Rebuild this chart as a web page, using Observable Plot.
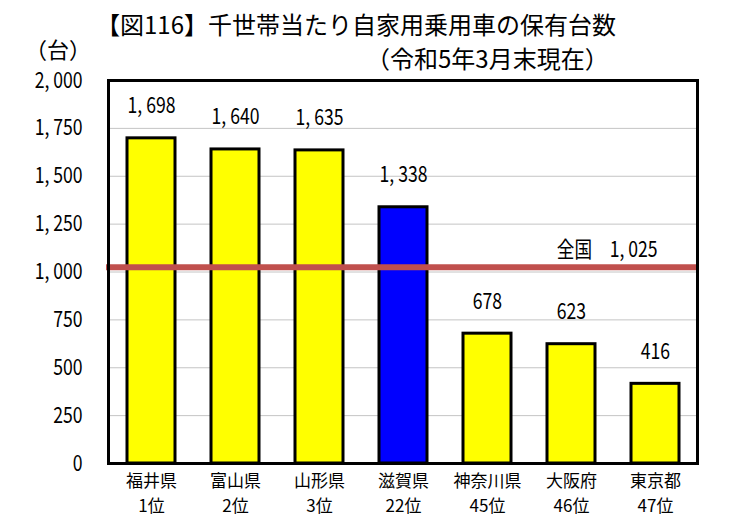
<!DOCTYPE html>
<html><head><meta charset="utf-8">
<script src="https://cdn.jsdelivr.net/npm/d3@7"></script>
<script src="https://cdn.jsdelivr.net/npm/@observablehq/plot@0.6"></script>
<style>
  body { margin:0; background:#fff; }
  #wrap { position:relative; width:740px; height:529px; overflow:hidden; font-family:"Noto Sans CJK JP",sans-serif; color:#000; }
  .t { position:absolute; white-space:nowrap; line-height:1; font-family:"Noto Sans CJK JP",sans-serif; }
  #chart { position:absolute; left:0; top:0; }
  #chart svg { font-family:"Noto Sans CJK JP",sans-serif; }
</style>
</head><body>
<div id="wrap">
  <div id="chart"></div>
  <div class="t" id="title1" style="left:96px;top:12px;font-size:24px;">【図116】千世帯当たり自家用乗用車の保有台数</div>
  <div class="t" id="title2" style="left:366px;top:46px;font-size:24px;">（令和5年3月末現在）</div>
  <div class="t" id="unit" style="left:25px;top:37px;font-size:22px;">（台）</div>
</div>
<script>
const prefectures = ["福井県","富山県","山形県","滋賀県","神奈川県","大阪府","東京都"];
const ranks = ["1位","2位","3位","22位","45位","46位","47位"];
const values = [1698,1640,1635,1338,678,623,416];
const highlight = "滋賀県";
const nationalLabel = "全国";
const nationalValue = 1025;
const yTicks = [0,250,500,750,1000,1250,1500,1750,2000];
const gridTicks = [250,500,750,1000,1250,1500,1750];

const fmt = n => d3.format(",")(n).replace(",", ", ");
const data = prefectures.map((p,i) => ({pref:p, rank:ranks[i], value:values[i]}));

const plot = Plot.plot({
  width: 740,
  height: 529,
  marginTop: 80,
  marginBottom: 66,
  marginLeft: 108,
  marginRight: 43,
  style: {fontSize: "22px", color: "#000", background: "transparent", overflow: "visible"},
  x: {domain: prefectures, paddingInner: 0.43, paddingOuter: 0.215, axis: null},
  y: {domain: [0, 2000], ticks: yTicks, tickFormat: fmt, tickSize: 0, tickPadding: 26, label: null},
  marks: [
    Plot.ruleY(gridTicks, {stroke: "#c4c4c4", strokeWidth: 1}),
    Plot.barY(data, {x: "pref", y: "value", fill: d => d.pref === highlight ? "#0000ff" : "#ffff00", stroke: "#000", strokeWidth: 3}),
    Plot.ruleY([nationalValue], {stroke: "#c0504d", strokeWidth: 6, insetLeft: -2}),
    Plot.frame({stroke: "#000", strokeWidth: 3}),
    Plot.text(data, {x: "pref", y: "value", text: d => fmt(d.value), dy: -32, fontSize: 22, fill: "#000"}),
    Plot.text([nationalValue], {y: d => d, frameAnchor: "right", textAnchor: "end", dx: -40, dy: -17, text: d => nationalLabel + "\u3000" + fmt(d), fontSize: 22, fill: "#000"}),
    Plot.text(data, {x: "pref", frameAnchor: "bottom", text: "pref", dy: 23, fontSize: 17, fill: "#000"}),
    Plot.text(data, {x: "pref", frameAnchor: "bottom", text: "rank", dy: 48, fontSize: 17, fill: "#000"})
  ]
});
document.getElementById("chart").appendChild(plot);

// condense labels horizontally to mimic the narrow font of the reference
const axisLabels = new Set([...prefectures, ...ranks]);
plot.querySelectorAll("text").forEach(t => {
  const SX = axisLabels.has(t.textContent.trim()) ? 1 : 0.8;
  if (SX === 1) return;
  [t, ...t.querySelectorAll("tspan")].forEach(el => {
    const x = el.getAttribute("x");
    if (x != null && x !== "" && !isNaN(+x)) el.setAttribute("x", (+x) / SX);
  });
  const tr = t.getAttribute("transform") || "";
  t.setAttribute("transform", (tr + " scale(" + SX + ",1)").trim());
});
</script>
</body></html>
